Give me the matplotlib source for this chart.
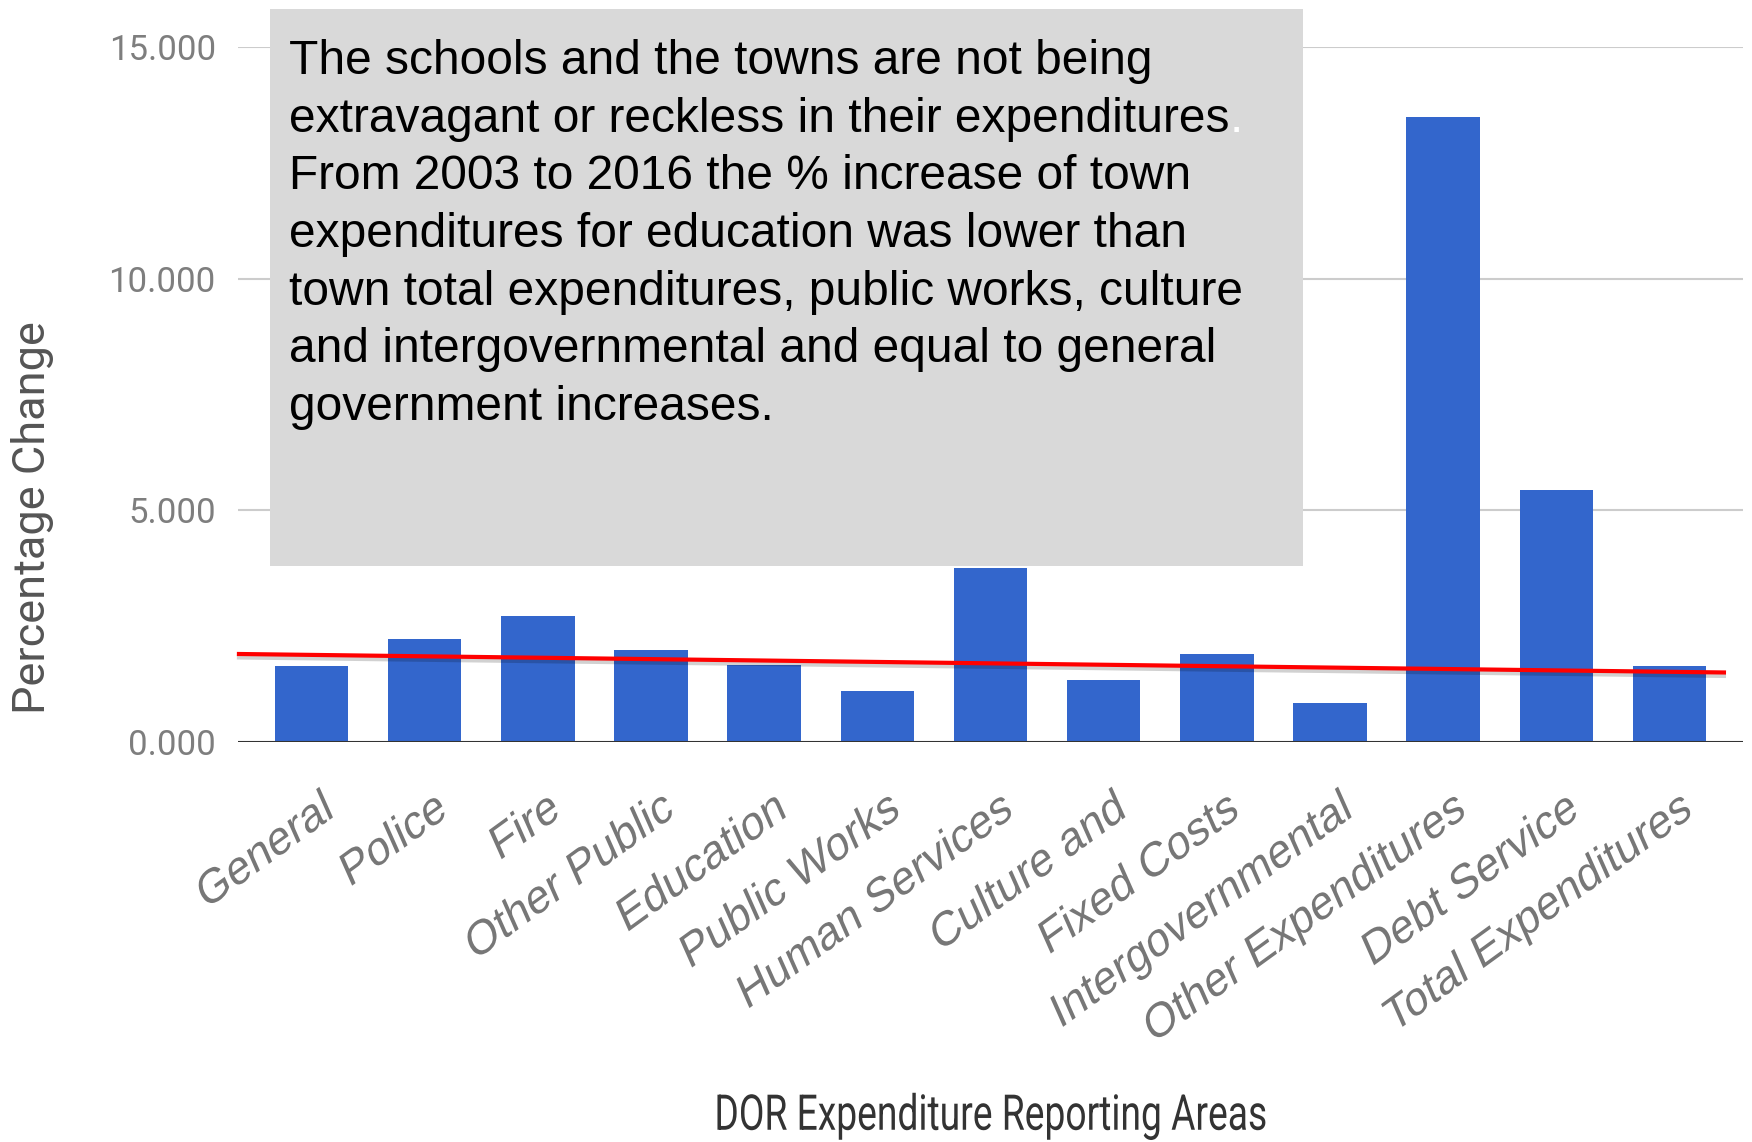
import matplotlib
matplotlib.use("Agg")
import matplotlib.pyplot as plt
from matplotlib.patches import Rectangle
from matplotlib.patheffects import AbstractPathEffect, SimpleLineShadow, Normal
from matplotlib.text import Annotation
from matplotlib.transforms import Affine2D, blended_transform_factory

# DOR expenditure areas, % change 2003 -> 2016
categories = ["General", "Police", "Fire", "Other Public", "Education",
              "Public Works", "Human Services", "Culture and", "Fixed Costs",
              "Intergovernmental", "Other Expenditures", "Debt Service",
              "Total Expenditures"]
pct_change = [1.64, 2.22, 2.72, 1.98, 1.66, 1.09, 3.76, 1.33, 1.90,
              0.84, 13.50, 5.43, 1.64]
y_ticks = [0, 5, 10, 15]

# hand-drawn reference line
ref_x = [-0.66, 12.5]
ref_y = [1.90, 1.50]

note_lines = [
    "The schools and the towns are not being",
    "extravagant or reckless in their expenditures",
    "From 2003 to 2016 the % increase of town",
    "expenditures for education was lower than",
    "town total expenditures, public works, culture",
    "and intergovernmental and equal to general",
    "government increases.",
]

plt.rcParams['font.family'] = ['Roboto', 'DejaVu Sans']

W, H = 1752, 1142
ARIAL = ["Liberation Sans", "DejaVu Sans"]


class Warp(AbstractPathEffect):
    """Extra affine map on glyph outlines (in the glyph frame), pinned at
    the right end or the centre of the string."""

    def __init__(self, skew=(0, 0), sx=1.0, pin="right"):
        super().__init__()
        self.skew = skew
        self.sx = sx
        self.pin = pin

    def draw_path(self, renderer, gc, tpath, affine, rgbFace=None):
        ext = tpath.get_extents()
        px = ext.x1 if self.pin == "right" else 0.5 * (ext.x0 + ext.x1)
        warp = (Affine2D().translate(-px, 0).scale(self.sx, 1)
                .skew_deg(*self.skew).translate(px, 0))
        renderer.draw_path(gc, tpath, warp + affine, rgbFace)


fig = plt.figure(figsize=(W / 100, H / 100), dpi=100)
ax = fig.add_axes([238 / W, 1 - 742 / H, (1743 - 238) / W, (742 - 47) / H])

x = range(len(categories))
ax.bar(x, pct_change, width=0.65, color="#3366cc", zorder=2)
ax.set_xlim(-0.65, 12.65)
ax.set_ylim(0, 15)

ax.set_yticks(y_ticks)
ax.set_yticklabels([f"{v:.3f}" for v in y_ticks])
ax.tick_params(axis="y", length=0, pad=16, labelsize=25, labelcolor="#7e7e7e")
ax.set_xticks([])
ax.yaxis.grid(True, color="#cccccc", lw=1.5, zorder=0)
ax.set_axisbelow(True)
for s in ax.spines.values():
    s.set_visible(False)
ax.axhline(0, color="#333333", lw=2.2, zorder=3)

ax.plot(ref_x, ref_y, color="#ff0000", lw=3, clip_on=False, zorder=4,
        solid_capstyle="butt",
        path_effects=[SimpleLineShadow(offset=(0, -2.5), shadow_color="k", alpha=0.18),
                      Normal()])

# slanted, oblique category labels
lab_tr = blended_transform_factory(ax.transData, ax.transAxes)
for i, name in enumerate(categories):
    ax.text(i + 0.21, -0.106, name, transform=lab_tr, ha="right", va="baseline",
            rotation=36, rotation_mode="anchor", family=ARIAL,
            fontsize=32.5, color="#777777", clip_on=False,
            path_effects=[Warp(skew=(12, 0))])

fig.text(33 / W, 1 - 518 / H, "Percentage Change", rotation=90,
         ha="center", va="center", fontsize=32.5, color="#555555")
fig.text(990 / W, 1 - 1117 / H, "DOR Expenditure Reporting Areas",
         ha="center", va="center", fontsize=35.5, color="#333333",
         path_effects=[Warp(sx=0.755, pin="center")])

# note box over the chart
fig.patches.append(Rectangle((270 / W, 1 - 566 / H), (1303 - 270) / W, (566 - 9) / H,
                             transform=fig.transFigure, facecolor="#d9d9d9",
                             edgecolor="none", zorder=5))
texts = []
for k, line in enumerate(note_lines):
    t = fig.text(289 / W, 1 - (74 + k * 57.7) / H, line, ha="left", va="baseline",
                 fontsize=34.5, family=ARIAL, color="black", zorder=6)
    texts.append(t)
fig.add_artist(Annotation(".", xy=(1, 0), xycoords=texts[1], ha="left", va="bottom",
                          fontsize=34.5, family=ARIAL, color="white", zorder=7))

fig.savefig("out.png", dpi=100)
